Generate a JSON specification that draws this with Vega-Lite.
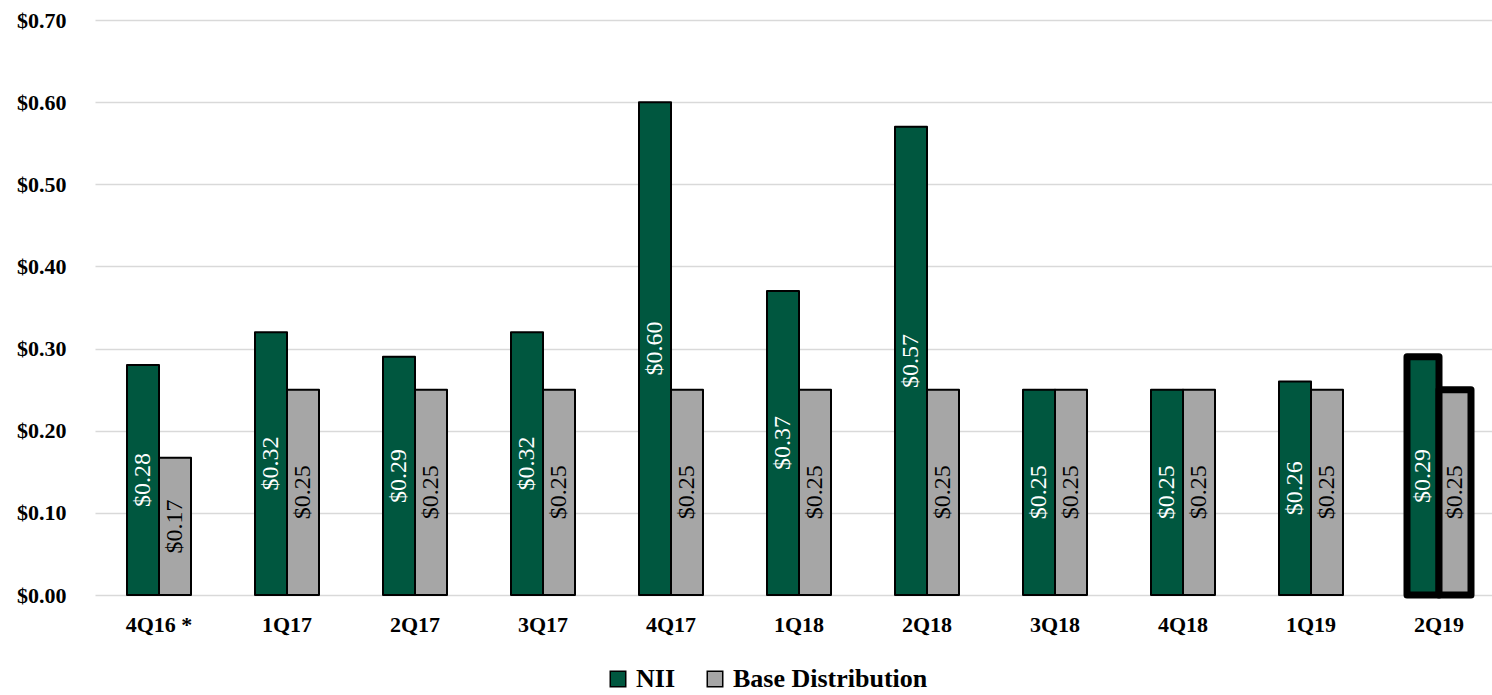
{
  "$schema": "https://vega.github.io/schema/vega-lite/v6.json",
  "autosize": "none",
  "padding": {"left": 95, "top": 20, "right": 0, "bottom": 100},
  "width": 1408,
  "height": 575,
  "background": "white",
  "config": {"view": {"stroke": null}, "font": "Liberation Serif"},
  "data": {
    "values": [
      {"quarter": "4Q16 *", "series": "NII", "value": 0.28},
      {"quarter": "4Q16 *", "series": "Base Distribution", "value": 0.167},
      {"quarter": "1Q17", "series": "NII", "value": 0.32},
      {"quarter": "1Q17", "series": "Base Distribution", "value": 0.25},
      {"quarter": "2Q17", "series": "NII", "value": 0.29},
      {"quarter": "2Q17", "series": "Base Distribution", "value": 0.25},
      {"quarter": "3Q17", "series": "NII", "value": 0.32},
      {"quarter": "3Q17", "series": "Base Distribution", "value": 0.25},
      {"quarter": "4Q17", "series": "NII", "value": 0.60},
      {"quarter": "4Q17", "series": "Base Distribution", "value": 0.25},
      {"quarter": "1Q18", "series": "NII", "value": 0.37},
      {"quarter": "1Q18", "series": "Base Distribution", "value": 0.25},
      {"quarter": "2Q18", "series": "NII", "value": 0.57},
      {"quarter": "2Q18", "series": "Base Distribution", "value": 0.25},
      {"quarter": "3Q18", "series": "NII", "value": 0.25},
      {"quarter": "3Q18", "series": "Base Distribution", "value": 0.25},
      {"quarter": "4Q18", "series": "NII", "value": 0.25},
      {"quarter": "4Q18", "series": "Base Distribution", "value": 0.25},
      {"quarter": "1Q19", "series": "NII", "value": 0.26},
      {"quarter": "1Q19", "series": "Base Distribution", "value": 0.25},
      {"quarter": "2Q19", "series": "NII", "value": 0.29},
      {"quarter": "2Q19", "series": "Base Distribution", "value": 0.25}
    ]
  },
  "encoding": {
    "x": {
      "field": "quarter", "type": "nominal", "sort": null,
      "scale": {"paddingInner": 0.5, "paddingOuter": 0.25},
      "axis": {"title": null, "labelAngle": 0, "labelFont": "Liberation Serif", "labelFontSize": 22, "labelFontWeight": "bold", "labelColor": "black", "labelPadding": 19, "ticks": false, "domain": false}
    },
    "xOffset": {"field": "series", "type": "nominal", "sort": ["NII", "Base Distribution"]}
  },
  "layer": [
    {
      "mark": {"type": "bar", "stroke": "black", "strokeJoin": "round"},
      "encoding": {
        "y": {
          "field": "value", "type": "quantitative",
          "scale": {"domain": [0, 0.7]},
          "axis": {"title": null, "values": [0, 0.1, 0.2, 0.3, 0.4, 0.5, 0.6, 0.7], "format": "$.2f", "labelFont": "Liberation Serif", "labelFontSize": 22, "labelFontWeight": "bold", "labelColor": "black", "labelPadding": 29, "ticks": false, "domain": false, "gridColor": "#D9D9D9", "gridWidth": 1.5}
        },
        "color": {
          "field": "series", "type": "nominal",
          "scale": {"domain": ["NII", "Base Distribution"], "range": ["#00573F", "#A6A6A6"]},
          "legend": {"title": null, "orient": "none", "direction": "horizontal", "legendX": 510, "legendY": 646, "symbolType": "square", "symbolSize": 240, "symbolStrokeColor": "black", "symbolStrokeWidth": 1.5, "labelFont": "Liberation Serif", "labelFontSize": 26, "labelFontWeight": "bold", "labelColor": "black", "labelLimit": 400, "columnPadding": 26, "labelOffset": 5}
        },
        "strokeWidth": {"condition": {"test": "datum.quarter === '2Q19'", "value": 7}, "value": 2}
      }
    },
    {
      "mark": {"type": "text", "angle": -90, "align": "center", "baseline": "middle", "font": "Liberation Serif", "fontSize": 24, "y": {"expr": "scale('y', datum.value / 2)"}},
      "encoding": {
        "text": {"field": "value", "type": "quantitative", "format": "$.2f"},
        "color": {"condition": {"test": "datum.series === 'NII'", "value": "white"}, "value": "black"}
      }
    }
  ]
}
